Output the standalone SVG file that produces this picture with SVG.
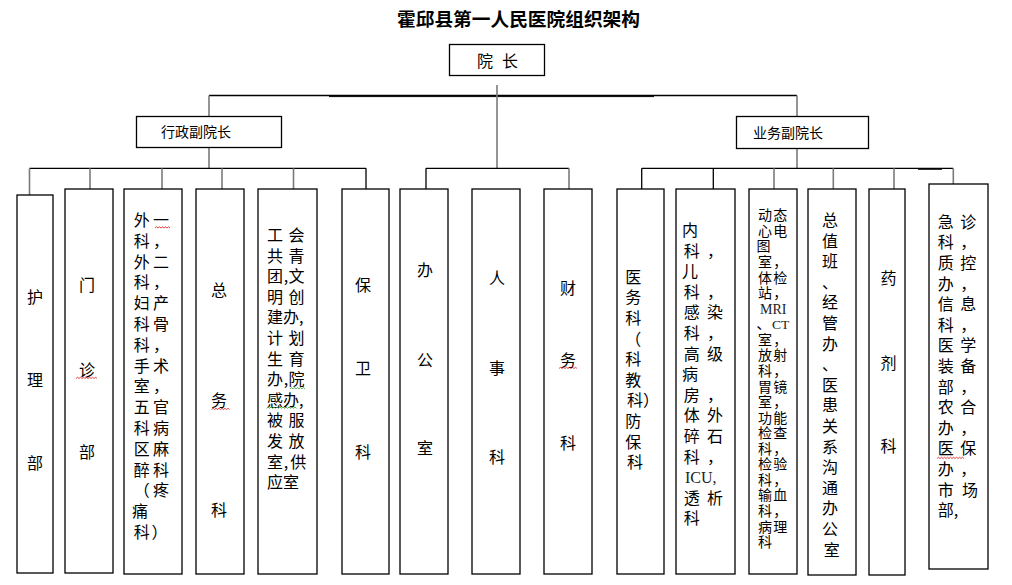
<svg xmlns="http://www.w3.org/2000/svg" width="1012" height="585" viewBox="0 0 1012 585">
<style>
.b{fill:#fff;stroke:#000;stroke-width:1.3}
.t{font-family:"Noto Sans CJK SC","Noto Sans",sans-serif;font-size:16px;fill:#000;text-anchor:middle}
.st{font-family:"Noto Sans CJK SC","Noto Sans",sans-serif;font-size:16px;fill:#000;text-anchor:start}
.m{font-size:14px}
.se{font-family:"Liberation Serif","Noto Sans CJK SC",serif;fill:#222;text-anchor:start}
.k{stroke:#000;stroke-width:1.3;fill:none}
.g{stroke:#7a7a7a;stroke-width:1.6;fill:none}
.wr{stroke:#e01010;stroke-width:0.8;fill:none}
.wg{stroke:#30a030;stroke-width:0.8;fill:none}
</style>
<rect width="1012" height="585" fill="#fff"/>
<text id="title" x="518.5" y="25.5" class="t" style="font-size:18.7px;font-weight:bold">霍邱县第一人民医院组织架构</text>

<g id="connectors">
<line class="k" x1="209" y1="95.5" x2="797" y2="95.5"/>
<line class="k" x1="329" y1="96.6" x2="654" y2="96.6" style="stroke-width:1"/>
<line class="g" x1="497" y1="85" x2="497" y2="168.3"/>
<line class="g" x1="209" y1="95.5" x2="209" y2="116.5"/>
<line class="g" x1="209" y1="147.5" x2="209" y2="168.3"/>
<line class="g" x1="797" y1="95.5" x2="797" y2="116.5"/>
<line class="g" x1="797" y1="148.5" x2="797" y2="168.3"/>
<line class="k" x1="29.5" y1="168.3" x2="366" y2="168.3"/>
<line class="k" x1="426" y1="168.3" x2="569" y2="168.3"/>
<line class="k" x1="641.7" y1="168.3" x2="953.3" y2="168.3"/>
<line class="k" x1="918" y1="169.3" x2="942" y2="169.3" style="stroke-width:1"/>
<line class="g" x1="29.5" y1="168.3" x2="29.5" y2="195"/>
<line class="g" x1="90" y1="168.3" x2="90" y2="189"/>
<line class="g" x1="162" y1="168.3" x2="162" y2="189"/>
<line class="g" x1="222" y1="168.3" x2="222" y2="189"/>
<line class="g" x1="293.5" y1="168.3" x2="293.5" y2="189"/>
<line class="k" x1="366" y1="168.3" x2="366" y2="189"/>
<line class="k" x1="426" y1="168.3" x2="426" y2="189"/>
<line class="g" x1="569" y1="168.3" x2="569" y2="189"/>
<line class="k" x1="641.7" y1="168.3" x2="641.7" y2="189"/>
<line class="k" x1="713.3" y1="168.3" x2="713.3" y2="189"/>
<line class="g" x1="774" y1="168.3" x2="774" y2="189"/>
<line class="g" x1="833.3" y1="168.3" x2="833.3" y2="189"/>
<line class="g" x1="894" y1="168.3" x2="894" y2="189"/>
<line class="g" x1="953.3" y1="168.3" x2="953.3" y2="184"/>
</g>

<g id="n-yuanzhang">
<rect class="b" x="449.5" y="44.5" width="95" height="31"/>
<text class="t"><tspan x="485" y="66.5">院</tspan><tspan x="510">长</tspan></text>
</g>
<g id="n-xingzheng">
<rect class="b" x="136.5" y="116.5" width="145" height="31"/>
<text class="st" x="161" y="137" style="font-size:14px">行政副院长</text>
</g>
<g id="n-yewu">
<rect class="b" x="736.5" y="116.5" width="132" height="32"/>
<text class="st" x="753" y="137.5" style="font-size:14px">业务副院长</text>
</g>

<g id="n-huli">
<rect class="b" x="17" y="195" width="36" height="378"/>
<text class="t"><tspan x="35" y="302.7">护</tspan><tspan x="35" y="386">理</tspan><tspan x="35" y="469">部</tspan></text>
</g>
<g id="n-menzhen">
<rect class="b" x="65" y="189" width="48" height="384"/>
<text class="t"><tspan x="87" y="291">门</tspan><tspan x="87" y="376">诊</tspan><tspan x="87" y="457.7">部</tspan></text>
<path class="wr" d="M76 378.5l1.5-1.2l1.5 1.2l1.5-1.2l1.5 1.2l1.5-1.2l1.5 1.2l1.5-1.2l1.5 1.2l1.5-1.2l1.5 1.2l1.5-1.2l1.5 1.2l1.5-1.2l1.5 1.2"/>
</g>
<g id="n-waike">
<rect class="b" x="124" y="189" width="58" height="385"/>
<text class="t">
<tspan x="141.7" y="226">外</tspan><tspan x="162.7">一</tspan>
<tspan x="141.7" y="247">科</tspan><tspan x="162.7">，</tspan>
<tspan x="141.7" y="268">外</tspan><tspan x="162.7">二</tspan>
<tspan x="141.7" y="288">科</tspan><tspan x="162.7">，</tspan>
<tspan x="141.7" y="309">妇</tspan><tspan x="162.7">产</tspan>
<tspan x="141.7" y="330">科</tspan><tspan x="162.7">骨</tspan>
<tspan x="141.7" y="351">科</tspan><tspan x="162.7">，</tspan>
<tspan x="141.7" y="372">手</tspan><tspan x="162.7">术</tspan>
<tspan x="141.7" y="392">室</tspan><tspan x="162.7">，</tspan>
<tspan x="141.7" y="413">五</tspan><tspan x="162.7">官</tspan>
<tspan x="141.7" y="434">科</tspan><tspan x="162.7">病</tspan>
<tspan x="141.7" y="455">区</tspan><tspan x="162.7">麻</tspan>
<tspan x="141.7" y="476">醉</tspan><tspan x="162.7">科</tspan>
<tspan x="141.7" y="496">（</tspan><tspan x="162.7">疼</tspan>
<tspan x="141.7" y="517">痛</tspan>
<tspan x="141.7" y="538">科</tspan><tspan x="159.5">）</tspan>
</text>
<path class="wr" d="M155 228l1.5-1.2l1.5 1.2l1.5-1.2l1.5 1.2l1.5-1.2l1.5 1.2l1.5-1.2l1.5 1.2l1.5-1.2l1.5 1.2"/>
</g>
<g id="n-zongwu">
<rect class="b" x="196" y="189" width="48" height="385"/>
<text class="t"><tspan x="219" y="296">总</tspan><tspan x="219" y="406">务</tspan><tspan x="219" y="516">科</tspan></text>
<path class="wr" d="M211.5 409.5l1.5-1.2l1.5 1.2l1.5-1.2l1.5 1.2l1.5-1.2l1.5 1.2l1.5-1.2l1.5 1.2l1.5-1.2l1.5 1.2l1.5-1.2l1.5 1.2"/>
</g>
<g id="n-gonghui">
<rect class="b" x="258" y="189" width="59" height="385"/>
<text class="t">
<tspan x="275" y="241">工</tspan><tspan x="298.3">会</tspan>
<tspan x="275" y="261.6">共</tspan><tspan x="298.3">青</tspan>
<tspan x="275" y="282.2">团</tspan><tspan x="286">,</tspan><tspan x="298.3">文</tspan>
<tspan x="275" y="302.8">明</tspan><tspan x="298.3">创</tspan>
<tspan x="275" y="344">计</tspan><tspan x="298.3">划</tspan>
<tspan x="275" y="364.6">生</tspan><tspan x="298.3">育</tspan>
<tspan x="275" y="385.2">办</tspan><tspan x="286">,</tspan><tspan x="298.3">院</tspan>
<tspan x="275" y="426.4">被</tspan><tspan x="298.3">服</tspan>
<tspan x="275" y="447">发</tspan><tspan x="298.3">放</tspan>
<tspan x="275" y="467.6">室</tspan><tspan x="286">,</tspan><tspan x="298.3">供</tspan>
</text>
<text class="st" x="267" y="323.4">建办,</text>
<text class="st" x="267" y="405.8">感办,</text>
<text class="st" x="267" y="488.2">应室</text>
<path class="wg" d="M290 388.8l1.5-1.2l1.5 1.2l1.5-1.2l1.5 1.2l1.5-1.2l1.5 1.2l1.5-1.2l1.5 1.2l1.5-1.2l1.5 1.2"/>
<path class="wg" d="M266.5 408.3l1.5-1.2l1.5 1.2l1.5-1.2l1.5 1.2l1.5-1.2l1.5 1.2l1.5-1.2l1.5 1.2l1.5-1.2l1.5 1.2l1.5-1.2l1.5 1.2l1.5-1.2l1.5 1.2l1.5-1.2l1.5 1.2l1.5-1.2l1.5 1.2l1.5-1.2l1.5 1.2"/>
</g>
<g id="n-baowei">
<rect class="b" x="342" y="189" width="47" height="385"/>
<text class="t"><tspan x="363" y="291">保</tspan><tspan x="363" y="374.3">卫</tspan><tspan x="363" y="457.7">科</tspan></text>
</g>
<g id="n-bangong">
<rect class="b" x="400" y="189" width="48" height="385"/>
<text class="t"><tspan x="425" y="276">办</tspan><tspan x="425" y="366">公</tspan><tspan x="425" y="454.3">室</tspan></text>
</g>
<g id="n-renshi">
<rect class="b" x="472" y="189" width="48" height="385"/>
<text class="t"><tspan x="497" y="284.3">人</tspan><tspan x="497" y="374.3">事</tspan><tspan x="497" y="462.7">科</tspan></text>
</g>
<g id="n-caiwu">
<rect class="b" x="544" y="189" width="48" height="385"/>
<text class="t"><tspan x="568" y="294.3">财</tspan><tspan x="568" y="366">务</tspan><tspan x="568" y="449.3">科</tspan></text>
<path class="wr" d="M559 368.5l1.5-1.2l1.5 1.2l1.5-1.2l1.5 1.2l1.5-1.2l1.5 1.2l1.5-1.2l1.5 1.2l1.5-1.2l1.5 1.2l1.5-1.2l1.5 1.2"/>
</g>
<g id="n-yiwu">
<rect class="b" x="617" y="189" width="47" height="385"/>
<text class="t">
<tspan x="635" y="282.7">医</tspan>
<tspan x="635" y="303.3">务</tspan>
<tspan x="635" y="323.9">科</tspan>
<tspan x="635" y="344.5">（</tspan>
<tspan x="635" y="365.1">科</tspan>
<tspan x="635" y="385.7">教</tspan>
<tspan x="635" y="426.9">防</tspan>
<tspan x="635" y="447.5">保</tspan>
<tspan x="635" y="468.1">科</tspan>
</text>
<text class="st" x="627" y="406.3">科）</text>
</g>
<g id="n-neike">
<rect class="b" x="676" y="189" width="59" height="385"/>
<text class="t">
<tspan x="691.7" y="236">内</tspan>
<tspan x="691.7" y="256.6">科</tspan><tspan x="716.7">，</tspan>
<tspan x="691.7" y="277.2">儿</tspan>
<tspan x="691.7" y="297.8">科</tspan><tspan x="716.7">，</tspan>
<tspan x="691.7" y="318.4">感</tspan><tspan x="716.7">染</tspan>
<tspan x="691.7" y="339">科</tspan><tspan x="716.7">，</tspan>
<tspan x="691.7" y="359.6">高</tspan><tspan x="716.7">级</tspan>
<tspan x="691.7" y="380.2">病</tspan>
<tspan x="691.7" y="400.8">房</tspan><tspan x="716.7">，</tspan>
<tspan x="691.7" y="421.4">体</tspan><tspan x="716.7">外</tspan>
<tspan x="691.7" y="442">碎</tspan><tspan x="716.7">石</tspan>
<tspan x="691.7" y="462.6">科</tspan><tspan x="716.7">，</tspan>
<tspan x="691.7" y="503.8">透</tspan><tspan x="716.7">析</tspan>
<tspan x="691.7" y="524.4">科</tspan>
</text>
<text class="se" x="685" y="483.2" style="font-size:16px">ICU,</text>
</g>
<g id="n-dongtai">
<rect class="b" x="749" y="189" width="48" height="385"/>
<text class="t m">
<tspan x="765" y="220.3">动</tspan><tspan x="781.7">态</tspan>
<tspan x="765" y="235.9">心</tspan><tspan x="781.7">电</tspan>
<tspan x="765" y="251.4">图</tspan>
<tspan x="765" y="267">室</tspan><tspan x="781.7">，</tspan>
<tspan x="765" y="282.5">体</tspan><tspan x="781.7">检</tspan>
<tspan x="765" y="298.1">站</tspan><tspan x="781.7">，</tspan>
<tspan x="765" y="329.2">、</tspan>
<tspan x="765" y="344.8">室</tspan><tspan x="781.7">，</tspan>
<tspan x="765" y="360.3">放</tspan><tspan x="781.7">射</tspan>
<tspan x="765" y="375.9">科</tspan><tspan x="781.7">，</tspan>
<tspan x="765" y="391.5">胃</tspan><tspan x="781.7">镜</tspan>
<tspan x="765" y="407">室</tspan><tspan x="781.7">，</tspan>
<tspan x="765" y="422.6">功</tspan><tspan x="781.7">能</tspan>
<tspan x="765" y="438.1">检</tspan><tspan x="781.7">查</tspan>
<tspan x="765" y="453.7">科</tspan><tspan x="781.7">，</tspan>
<tspan x="765" y="469.3">检</tspan><tspan x="781.7">验</tspan>
<tspan x="765" y="484.8">科</tspan><tspan x="781.7">，</tspan>
<tspan x="765" y="500.4">输</tspan><tspan x="781.7">血</tspan>
<tspan x="765" y="515.9">科</tspan><tspan x="781.7">，</tspan>
<tspan x="765" y="531.5">病</tspan><tspan x="781.7">理</tspan>
<tspan x="765" y="547.1">科</tspan>
</text>
<text class="se" x="760" y="313.7" style="font-size:14px">MRI</text>
<text class="se" x="772" y="329.2" style="font-size:13.5px">CT</text>
</g>
<g id="n-zongzhiban">
<rect class="b" x="808" y="189" width="48" height="386"/>
<text class="t">
<tspan x="831.7" y="226">总</tspan>
<tspan x="831.7" y="246.6">值</tspan>
<tspan x="831.7" y="267.2">班</tspan>
<tspan x="831.7" y="287.8">、</tspan>
<tspan x="831.7" y="308.4">经</tspan>
<tspan x="831.7" y="329">管</tspan>
<tspan x="831.7" y="349.6">办</tspan>
<tspan x="831.7" y="370.2">、</tspan>
<tspan x="831.7" y="390.8">医</tspan>
<tspan x="831.7" y="411.4">患</tspan>
<tspan x="831.7" y="432">关</tspan>
<tspan x="831.7" y="452.6">系</tspan>
<tspan x="831.7" y="473.2">沟</tspan>
<tspan x="831.7" y="493.8">通</tspan>
<tspan x="831.7" y="514.4">办</tspan>
<tspan x="831.7" y="535">公</tspan>
<tspan x="831.7" y="555.6">室</tspan>
</text>
</g>
<g id="n-yaoji">
<rect class="b" x="869" y="189" width="36" height="386"/>
<text class="t"><tspan x="888.5" y="284.3">药</tspan><tspan x="888.5" y="368.7">剂</tspan><tspan x="888.5" y="452">科</tspan></text>
</g>
<g id="n-jizhen">
<rect class="b" x="929" y="184" width="59" height="385"/>
<text class="t">
<tspan x="945.7" y="227.7">急</tspan><tspan x="970">诊</tspan>
<tspan x="945.7" y="248.3">科</tspan><tspan x="970">，</tspan>
<tspan x="945.7" y="268.9">质</tspan><tspan x="970">控</tspan>
<tspan x="945.7" y="289.5">办</tspan><tspan x="970">，</tspan>
<tspan x="945.7" y="310.1">信</tspan><tspan x="970">息</tspan>
<tspan x="945.7" y="330.7">科</tspan><tspan x="970">，</tspan>
<tspan x="945.7" y="351.3">医</tspan><tspan x="970">学</tspan>
<tspan x="945.7" y="371.9">装</tspan><tspan x="970">备</tspan>
<tspan x="945.7" y="392.5">部</tspan><tspan x="970">，</tspan>
<tspan x="945.7" y="413.1">农</tspan><tspan x="970">合</tspan>
<tspan x="945.7" y="433.7">办</tspan><tspan x="970">，</tspan>
<tspan x="945.7" y="454.3">医</tspan><tspan x="970">保</tspan>
<tspan x="945.7" y="474.9">办</tspan><tspan x="970">，</tspan>
<tspan x="945.7" y="495.5">市</tspan><tspan x="970">场</tspan>
</text>
<text class="st" x="937.7" y="516.1">部,</text>
<path class="wr" d="M937 458.5l1.5-1.2l1.5 1.2l1.5-1.2l1.5 1.2l1.5-1.2l1.5 1.2l1.5-1.2l1.5 1.2l1.5-1.2l1.5 1.2l1.5-1.2l1.5 1.2l1.5-1.2l1.5 1.2l1.5-1.2l1.5 1.2l1.5-1.2l1.5 1.2"/>
</g>
</svg>
